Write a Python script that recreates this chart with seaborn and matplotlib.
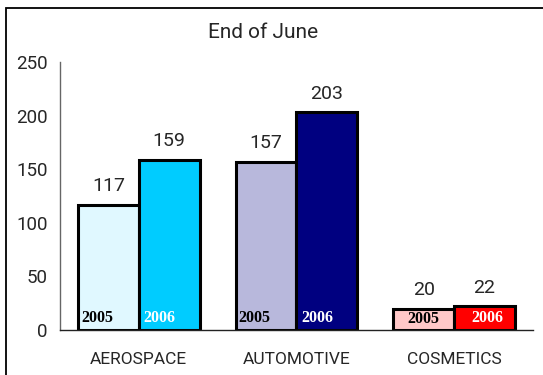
import matplotlib
matplotlib.use("Agg")
import matplotlib.pyplot as plt
import seaborn as sns
import pandas as pd
from matplotlib.patches import Rectangle

categories = ["AEROSPACE", "AUTOMOTIVE", "COSMETICS"]
years = ["2005", "2006"]
values_2005 = [117, 157, 20]
values_2006 = [159, 203, 22]
yticks = [0, 50, 100, 150, 200, 250]
title = "End of June"

colors_2005 = ["#E0F8FF", "#B8B8DC", "#FFC8C8"]
colors_2006 = ["#00CCFF", "#000080", "#FF0000"]
label_colors = {"2005": "black", "2006": "white"}
label_centered = [False, False, True]

df = pd.DataFrame({
    "category": categories * 2,
    "year": ["2005"] * 3 + ["2006"] * 3,
    "value": values_2005 + values_2006,
})

sns.set_style("white")
plt.rcParams["font.family"] = ["Roboto", "DejaVu Sans"]

fig = plt.figure(figsize=(5.43, 3.75), dpi=100)
W, H = 543, 375
ax = fig.add_axes([60 / W, 1 - 330 / H, (533 - 60) / W, (330 - 62) / H])

sns.barplot(data=df, x="category", y="value", hue="year", order=categories,
            hue_order=years, width=0.77, gap=0, ax=ax, legend=False,
            edgecolor="black", linewidth=2.2, saturation=1)

# recolor bars: patches ordered by hue then category
bars = [p for p in ax.patches if p.get_height() > 0]
for i, p in enumerate(bars):
    hi, ci = divmod(i, 3)
    p.set_facecolor(colors_2005[ci] if hi == 0 else colors_2006[ci])
    yr = years[hi]
    val = p.get_height()
    cx = p.get_x() + p.get_width() / 2
    # value above bar
    ax.text(cx, val + 9, f"{int(val)}", ha="center", va="bottom", fontsize=14)
    # year label inside bar
    if label_centered[ci]:
        ax.text(cx + (0.02 if hi == 1 else 0), val / 2, yr, ha="center", va="center",
                fontsize=11.5, fontweight="bold", family="Liberation Serif",
                color=label_colors[yr])
    else:
        ax.text(p.get_x() + p.get_width() * (0.05 if hi == 0 else 0.08), 4, yr,
                ha="left", va="bottom", fontsize=11.5, fontweight="bold",
                family="Liberation Serif", color=label_colors[yr])

ax.set_xlim(-0.5, 2.5)
ax.set_ylim(0, 250)
ax.set_yticks(yticks)
ax.set_yticklabels([str(t) for t in yticks], fontsize=13.5)
ax.set_xticks([-0.5, 0.5, 1.5, 2.5])
ax.set_xticklabels([])
ax.set_xticks([0, 1, 2], minor=True)
ax.set_xticklabels(categories, minor=True, fontsize=12.5)
ax.tick_params(axis="x", which="minor", length=0, pad=16)
ax.tick_params(axis="x", which="major", length=5, width=1, color="#333333", direction="out")
ax.tick_params(axis="y", which="major", length=5, width=1, color="#555555", direction="out", pad=4)
ax.set_xlabel("")
ax.set_ylabel("")
for s in ["top", "right"]:
    ax.spines[s].set_visible(False)
ax.spines["left"].set_color("#666666")
ax.spines["bottom"].set_color("#222222")
ax.spines["left"].set_linewidth(1)
ax.spines["bottom"].set_linewidth(1)
ax.set_facecolor("none")

fig.text(263 / W, 1 - 33 / H, title, ha="center", va="center", fontsize=15)

frame = Rectangle((6 / W, -0.1), 1.2, 1 - 8 / H + 0.1, transform=fig.transFigure,
                  fill=False, edgecolor="black", linewidth=1.3, zorder=0)
fig.patches.append(frame)

fig.savefig("out.png", dpi=100)
